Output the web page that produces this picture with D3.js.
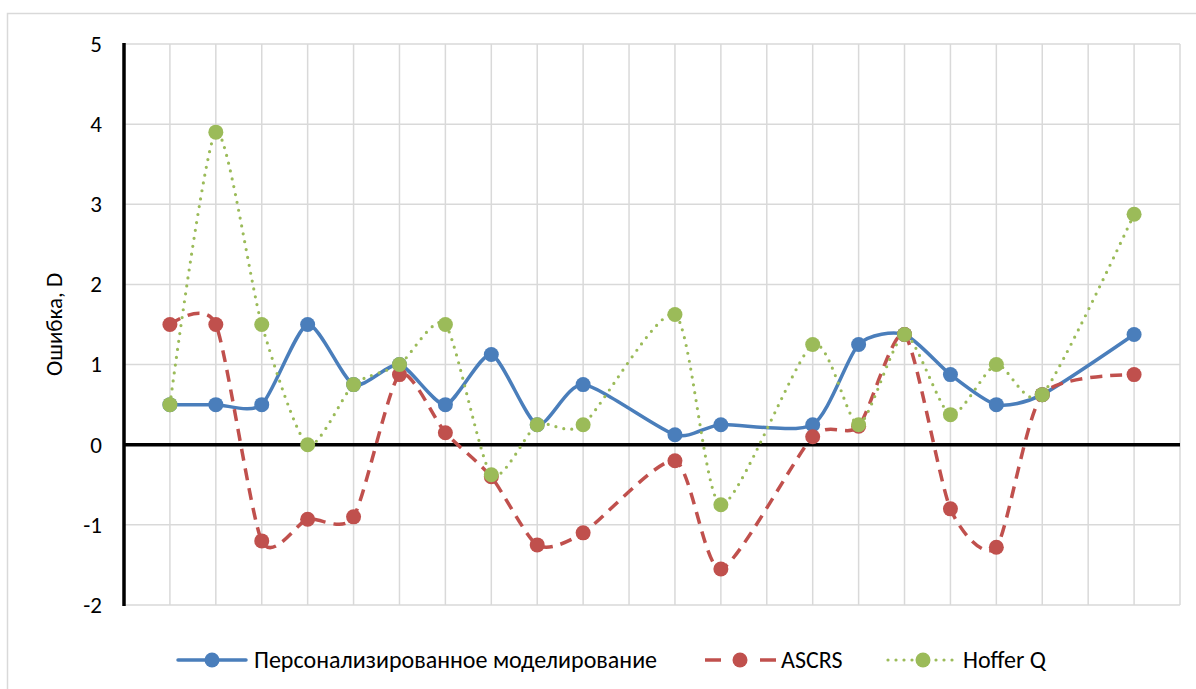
<!DOCTYPE html>
<html>
<head>
<meta charset="utf-8">
<script src="https://cdn.jsdelivr.net/npm/d3@7"></script>
<style>
  html, body { margin: 0; padding: 0; background: #fff; }
  svg { display: block; }
  text { font-family: Carlito, Calibri, Roboto, "Liberation Sans", sans-serif; fill: #000; }
</style>
</head>
<body>
<svg id="chart" width="1196" height="689"></svg>
<script>
// Sample numbers (x positions on the category grid; some slots are empty)
const sampleX = [1, 2, 3, 4, 5, 6, 7, 8, 9, 10, 12, 13, 15, 16, 17, 18, 19, 20, 22];

// Refraction error, diopters
const personalized = [0.5, 0.5, 0.5, 1.5, 0.75, 1.0, 0.5, 1.125, 0.25, 0.75, 0.125, 0.25, 0.25, 1.25, 1.375, 0.875, 0.5, 0.625, 1.375];
const ascrs        = [1.5, 1.5, -1.2, -0.93, -0.9, 0.875, 0.15, -0.4, -1.25, -1.1, -0.2, -1.55, 0.1, 0.23, 1.375, -0.8, -1.28, 0.625, 0.875];
const hofferQ      = [0.5, 3.9, 1.5, 0.0, 0.75, 1.0, 1.5, -0.375, 0.25, 0.25, 1.625, -0.75, 1.25, 0.25, 1.375, 0.375, 1.0, 0.625, 2.875];

const seriesNames = ["Персонализированное моделирование", "ASCRS", "Hoffer Q"];
const yTicks = [-2, -1, 0, 1, 2, 3, 4, 5];
const yTitle = "Ошибка, D";

const svg = d3.select("#chart");
const W = 1196, H = 689;

svg.append("rect").attr("width", W).attr("height", H).attr("fill", "#fff");
// chart frame
svg.append("rect")
  .attr("x", 7.5).attr("y", 13.5).attr("width", 1220).attr("height", 720)
  .attr("fill", "none").attr("stroke", "#d9d9d9").attr("stroke-width", 1.5);

const x = d3.scaleLinear().domain([0, 23]).range([124, 1180]);
const y = d3.scaleLinear().domain([-2, 5]).range([605, 44]);

const grid = svg.append("g");
// vertical grid
grid.selectAll("line.v").data(d3.range(1, 24)).join("line")
  .attr("x1", d => x(d)).attr("x2", d => x(d))
  .attr("y1", y(5)).attr("y2", y(-2))
  .attr("stroke", "#d9d9d9").attr("stroke-width", 1.5);
// horizontal grid
grid.selectAll("line.h").data(yTicks.filter(v => v !== 0)).join("line")
  .attr("x1", x(0)).attr("x2", x(23))
  .attr("y1", d => y(d)).attr("y2", d => y(d))
  .attr("stroke", "#d9d9d9").attr("stroke-width", 1.5);

// zero line and value axis
svg.append("line")
  .attr("x1", x(0)).attr("x2", x(23)).attr("y1", y(0)).attr("y2", y(0))
  .attr("stroke", "#000").attr("stroke-width", 3.5);
svg.append("line")
  .attr("x1", x(0)).attr("x2", x(0)).attr("y1", y(5) - 1).attr("y2", y(-2) + 1)
  .attr("stroke", "#000").attr("stroke-width", 3.5);

// y tick labels (plain hyphen for negatives)
const yAxis = d3.axisLeft(y).tickValues(yTicks).tickSize(0).tickPadding(22).tickFormat(d => String(d));
const ya = svg.append("g").attr("transform", `translate(${x(0)},0)`).call(yAxis);
ya.select(".domain").remove();
ya.selectAll("text").attr("font-size", 23).attr("font-family", null).attr("fill", "#000");

svg.append("text")
  .attr("transform", `translate(62,${(y(5) + y(-2)) / 2}) rotate(-90)`)
  .attr("text-anchor", "middle")
  .attr("font-size", 23)
  .text(yTitle);

const colors = ["#4a7ebb", "#c0504d", "#9bbb59"];
const dashes = [null, "12 8", "0 8"];
const caps = ["round", "butt", "round"];
const widths = [3.5, 3.5, 3.2];
const allSeries = [personalized, ascrs, hofferQ];

const line = d3.line()
  .x(d => x(d[0])).y(d => y(d[1]))
  .curve(d3.curveCardinal.tension(0.3));

allSeries.forEach((vals, i) => {
  const pts = sampleX.map((sx, j) => [sx, vals[j]]);
  const g = svg.append("g");
  g.append("path")
    .attr("d", line(pts))
    .attr("fill", "none")
    .attr("stroke", colors[i])
    .attr("stroke-width", widths[i])
    .attr("stroke-dasharray", dashes[i])
    .attr("stroke-linecap", caps[i]);
  g.selectAll("circle").data(pts).join("circle")
    .attr("cx", d => x(d[0])).attr("cy", d => y(d[1]))
    .attr("r", 7.5).attr("fill", colors[i]);
});

// legend
const legendY = 660;
const legendItems = [
  { x0: 178, x1: 246, tx: 254 },
  { x0: 703, x1: 777, tx: 781 },
  { x0: 888, x1: 958, tx: 963 }
];
legendItems.forEach((it, i) => {
  const g = svg.append("g");
  const mid = (it.x0 + it.x1) / 2;
  if (i === 1) {
    g.append("line").attr("x1", it.x0 + 2).attr("x2", it.x0 + 18).attr("y1", legendY).attr("y2", legendY)
      .attr("stroke", colors[i]).attr("stroke-width", 3.5);
    g.append("line").attr("x1", it.x1 - 17).attr("x2", it.x1 - 1).attr("y1", legendY).attr("y2", legendY)
      .attr("stroke", colors[i]).attr("stroke-width", 3.5);
  } else {
    g.append("line").attr("x1", it.x0).attr("x2", it.x1).attr("y1", legendY).attr("y2", legendY)
      .attr("stroke", colors[i]).attr("stroke-width", widths[i])
      .attr("stroke-dasharray", dashes[i]).attr("stroke-linecap", caps[i]);
  }
  g.append("circle").attr("cx", mid).attr("cy", legendY).attr("r", 7.5).attr("fill", colors[i]);
  g.append("text").attr("x", it.tx).attr("y", legendY).attr("dy", "0.35em")
    .attr("font-size", 24).text(seriesNames[i]);
});
</script>
</body>
</html>
